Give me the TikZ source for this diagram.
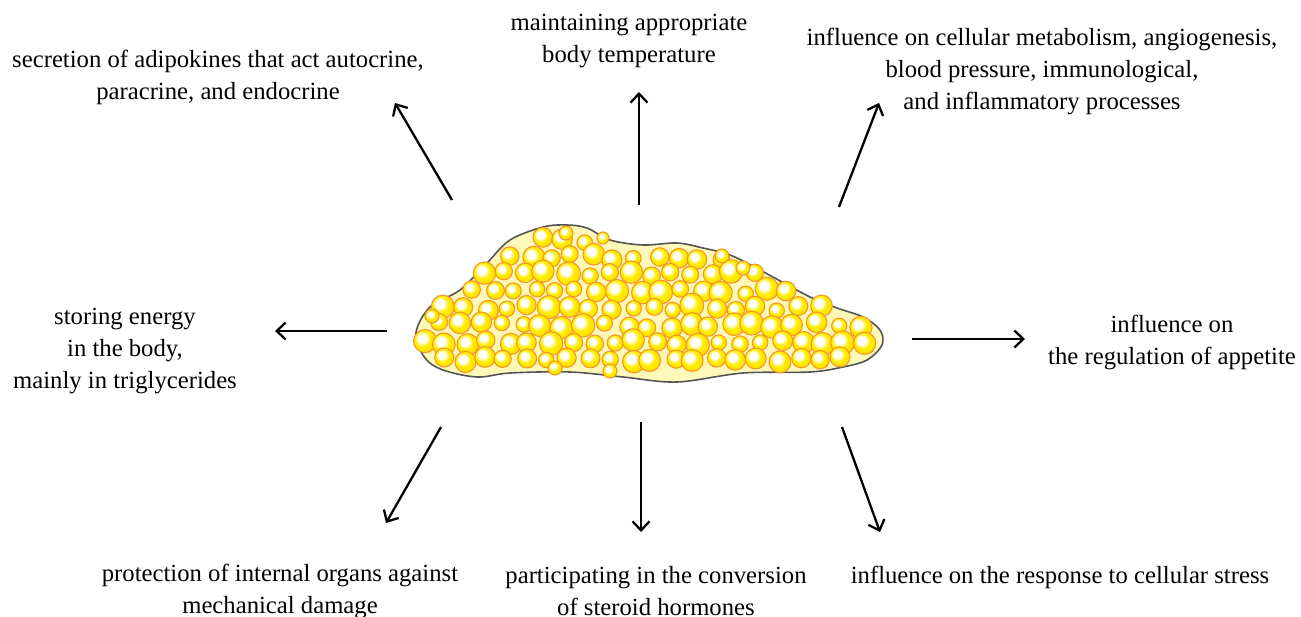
\documentclass[tikz,border=0pt]{standalone}
\usepackage{fontspec}
\setmainfont{Liberation Serif}
\usetikzlibrary{arrows.meta}
\definecolor{blobfill}{RGB}{255,249,185}
\definecolor{blobline}{RGB}{85,85,85}
\definecolor{bubY}{RGB}{255,238,0}
\definecolor{bubY2}{RGB}{255,216,0}
\definecolor{bubO}{RGB}{246,150,40}
\definecolor{bubO2}{RGB}{255,192,30}
\pgfdeclareradialshading{bubshade}{\pgfpoint{-7bp}{7bp}}{color(0bp)=(white); color(9bp)=(white); color(17bp)=(bubY); color(36bp)=(bubY2); color(46bp)=(bubO2); color(54bp)=(bubO); color(80bp)=(bubO)}
\tikzset{
  lbl/.style={font=\fontsize{24.7}{32}\selectfont, align=center, inner sep=0pt},
  arr/.style={line width=2.3pt, -{Straight Barb[length=9pt,width=17pt,line width=2.3pt]}},
  bubble/.style={shading=bubshade, draw=bubO, line width=1.1pt},
}
\begin{document}
\begin{tikzpicture}[x=1pt,y=-1pt]
\useasboundingbox[fill=white] (0,0) rectangle (1301,616);
% blob
\draw[fill=blobfill, draw=blobline, line width=1.6pt] plot[smooth cycle, tension=0.55] coordinates {
 (416,333) (430,307) (460,290) (487,263) (510,240) (543,227) (567,225) (587,228)
 (610,240) (643,245) (677,243) (703,248) (730,255) (760,270) (810,297) (837,308)
 (863,317) (880,330) (882,345) (867,360) (843,367) (810,372) (743,373) (677,382)
 (623,377) (570,372) (510,373) (477,377) (443,370) (425,358)};
% bubbles
\pgfmathsetseed{4711}
\foreach \yy/\xa/\xb/\of in {240/540/600/0, 257/500/715/10, 274/482/768/0, 291/462/792/10, 308/443/822/0, 325/428/858/10, 342/424/874/0, 359/432/850/10} {
  \pgfmathtruncatemacro\nn{(\xb-\xa)/21}
  \foreach \i in {0,...,\nn} {
    \pgfmathsetmacro\bx{\xa+21*\i+\of+3.5*rand}
    \pgfmathsetmacro\by{\yy+3*rand}
    \pgfmathsetmacro\br{9.8+2.2*rand}
    \shadedraw[bubble] (\bx,\by) circle[radius=\br];
  }
}
\foreach \bx/\by/\br in {566/233/7, 603/238/6, 555/368/7, 610/371/7, 722/256/7, 743/268/7, 432/316/7} {
  \shadedraw[bubble] (\bx,\by) circle[radius=\br];
}
% labels
\node[lbl] (tl) at (218,77) {secretion of adipokines that act autocrine,\\paracrine, and endocrine};
\node[lbl] (tm) at (629,41) {maintaining appropriate\\body temperature};
\node[lbl] (tr) at (1042,71) {influence on cellular metabolism, angiogenesis,\\blood pressure, immunological,\\and inflammatory processes};
\node[lbl] (lf) at (125,351) {storing energy\\in the body,\\mainly in triglycerides};
\node[lbl] (rt) at (1172,342) {influence on\\the regulation of appetite};
\node[lbl] (bl) at (280,591) {protection of internal organs against\\mechanical damage};
\node[lbl] (bm) at (656,591) {participating in the conversion\\of steroid hormones};
\node[lbl] (br) at (1060,577) {influence on the response to cellular stress};
% arrow ends
\coordinate (s1) at (452,200); \coordinate (e1) at (395,103);
\coordinate (s2) at (639,205); \coordinate (e2) at (639,92);
\coordinate (s3) at (839,207); \coordinate (e3) at (879,103);
\coordinate (s4) at (387,331); \coordinate (e4) at (275,331);
\coordinate (s5) at (912,339); \coordinate (e5) at (1025,339);
\coordinate (s6) at (441,427); \coordinate (e6) at (386,523);
\coordinate (s7) at (641,422); \coordinate (e7) at (641,532);
\coordinate (s8) at (842,427); \coordinate (e8) at (880,532);
\foreach \k in {1,...,8} {\draw[arr] (s\k) -- (e\k);}
\end{tikzpicture}
\end{document}
